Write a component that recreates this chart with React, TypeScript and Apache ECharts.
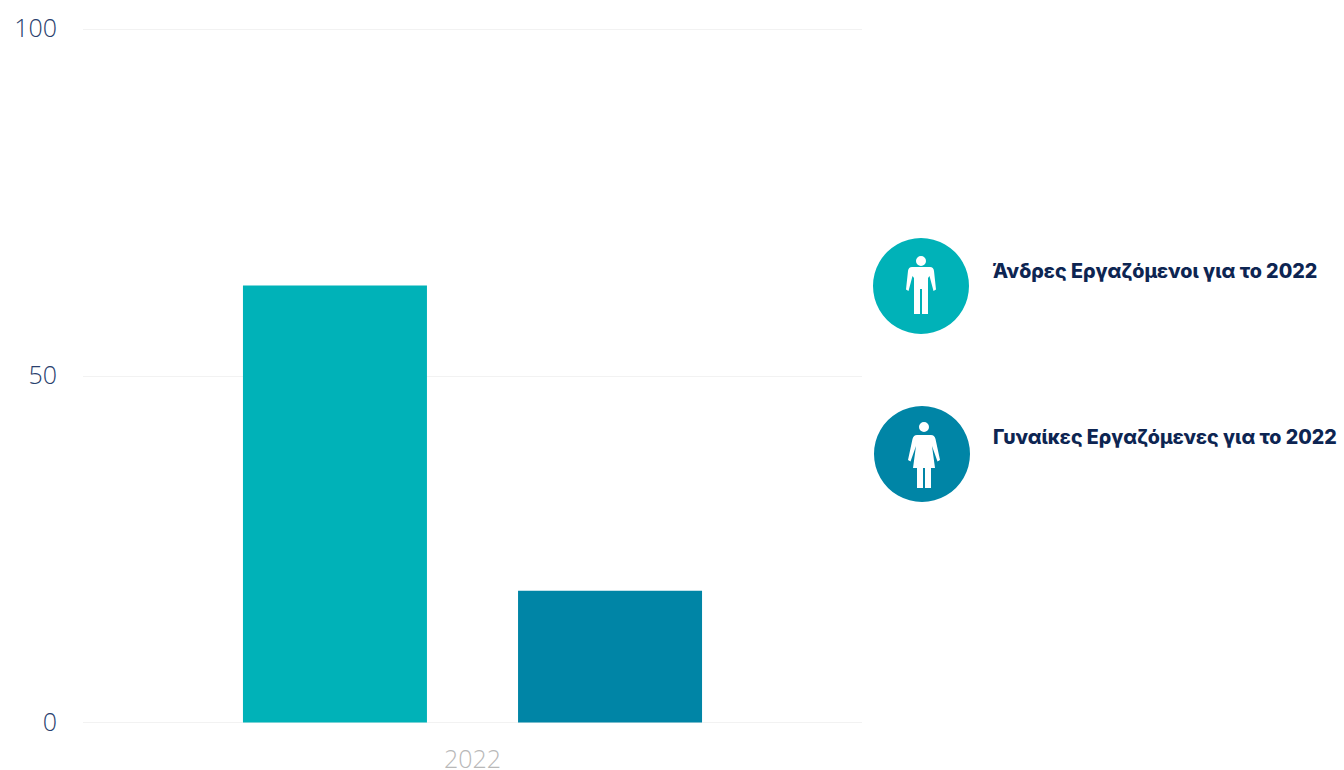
import React, { useEffect, useRef } from "react";
import * as echarts from "echarts";

const categories = ["2022"];
const menValues = [63];
const womenValues = [19];
const yTicks = { min: 0, max: 100, interval: 50 };
const menLabel = "Άνδρες Εργαζόμενοι για το 2022";
const womenLabel = "Γυναίκες Εργαζόμενες για το 2022";

const TEAL = "#00b2b8";
const BLUE = "#0085a6";
const NAVY = "#0d2552";

const MAN =
  "M5,-25 A5,5 0 1 1 -5,-25 A5,5 0 1 1 5,-25 Z " +
  "M-9,-19 L9,-19 Q12.5,-19 13,-15 L15,3.5 L12.5,5 L8.5,-10 L7,-8 L7,28 L1,28 L1,3 L-1,3 L-1,28 L-7,28 L-7,-8 L-8.5,-10 L-12.5,5 L-15,3.5 L-13,-15 Q-12.5,-19 -9,-19 Z";
const WOMAN =
  "M5,-28 A5,5 0 1 1 -5,-28 A5,5 0 1 1 5,-28 Z " +
  "M-7,-20 L7,-20 Q10.5,-20 11.5,-16 L16,5 L13.5,6.5 L8,-9 L11,13 L7,13 L7,33 L1,33 L1,13 L-1,13 L-1,33 L-7,33 L-7,13 L-11,13 L-8,-9 L-13.5,6.5 L-16,5 L-11.5,-16 Q-10.5,-20 -7,-20 Z";

echarts.graphic.registerShape("manIcon", echarts.graphic.extendPath(MAN, {}));
echarts.graphic.registerShape("womanIcon", echarts.graphic.extendPath(WOMAN, {}));

export default function App() {
  const ref = useRef<HTMLDivElement>(null);
  useEffect(() => {
    document.body.style.margin = "0";
    const chart = echarts.init(ref.current!, undefined, { renderer: "svg" });
    chart.setOption({
      animation: false,
      backgroundColor: "#ffffff",
      grid: { left: 83, right: 482, top: 29, bottom: 47 },
      xAxis: {
        type: "category",
        data: categories,
        axisLine: { show: false },
        axisTick: { show: false },
        axisLabel: {
          color: "#b8b8b8",
          fontFamily: "Open Sans",
          fontWeight: 300,
          fontSize: 25,
          lineHeight: 22,
          margin: 24,
        },
      },
      yAxis: {
        type: "value",
        ...yTicks,
        axisLine: { show: false },
        axisTick: { show: false },
        axisLabel: {
          color: "#2a3f6e",
          fontFamily: "Open Sans",
          fontWeight: 300,
          fontSize: 25,
          margin: 26,
          verticalAlign: "bottom",
          lineHeight: 4,
        },
        splitLine: { lineStyle: { color: "#f2f2f2", width: 1 } },
      },
      series: [
        {
          type: "bar",
          name: menLabel,
          data: menValues,
          barWidth: 184,
          barGap: "49.5%",
          itemStyle: { color: TEAL },
        },
        {
          type: "bar",
          name: womenLabel,
          data: womenValues,
          barWidth: 184,
          itemStyle: { color: BLUE },
        },
      ],
      graphic: [
        { type: "circle", shape: { cx: 921, cy: 286, r: 48 }, style: { fill: TEAL } },
        { type: "manIcon", x: 921, y: 286, style: { fill: "#ffffff" } },
        { type: "circle", shape: { cx: 922, cy: 454, r: 48 }, style: { fill: BLUE } },
        { type: "womanIcon", x: 924, y: 455, style: { fill: "#ffffff" } },
        {
          type: "text",
          x: 993,
          y: 271,
          style: {
            text: menLabel,
            fill: NAVY,
            font: "800 19.7px Inter",
            textAlign: "left",
            verticalAlign: "middle",
          },
        },
        {
          type: "text",
          x: 993,
          y: 437,
          style: {
            text: womenLabel,
            fill: NAVY,
            font: "800 19.6px Inter",
            textAlign: "left",
            verticalAlign: "middle",
          },
        },
      ],
    });
    return () => chart.dispose();
  }, []);
  return <div ref={ref} style={{ width: 1344, height: 770 }} />;
}
